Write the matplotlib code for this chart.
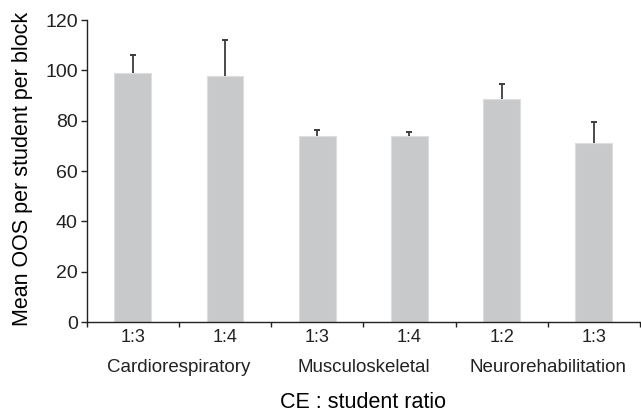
import numpy as np
import matplotlib
matplotlib.use('Agg')
import matplotlib.pyplot as plt

plt.rcParams['font.family'] = ['Liberation Sans', 'DejaVu Sans']
plt.rcParams['text.color'] = '#222222'
plt.rcParams['xtick.color'] = '#222222'
plt.rcParams['ytick.color'] = '#222222'

# ── Data ──────────────────────────────────────────────────────────────────────
ratios     = ['1:3', '1:4', '1:3', '1:4', '1:2', '1:3']
areas      = ['Cardiorespiratory', 'Musculoskeletal', 'Neurorehabilitation']
mean_oos   = [98.9, 97.7, 73.9, 73.9, 88.5, 71.0]
sd_oos     = [7.3, 14.3, 2.6, 1.6, 6.2, 8.6]

# ── Plot ──────────────────────────────────────────────────────────────────────
fig = plt.figure(figsize=(6.41, 4.13), dpi=100)
ax = fig.add_axes([0.1353, 0.2203, 0.8632, 0.7312])

x = np.arange(len(ratios))
bars = ax.bar(x, mean_oos, width=0.4, color='#c8c9cb', edgecolor='#dedede', linewidth=0.8,
              yerr=[np.zeros(len(sd_oos)), sd_oos],
              error_kw=dict(ecolor='#3c3c3c', elinewidth=1.3, capsize=2.5, capthick=1.4))
# upper whisker only: hide the caps sitting on top of the bars
bars.errorbar.lines[1][0].set_visible(False)

ax.set_xlim(-0.5, len(ratios) - 0.5)
ax.set_ylim(0, 120)
ax.set_yticks(range(0, 121, 20))

ax.spines['top'].set_visible(False)
ax.spines['right'].set_visible(False)
for s in ('left', 'bottom'):
    ax.spines[s].set_color('#222222')
    ax.spines[s].set_linewidth(1.0)

# ratio labels under each bar, ticks on the category boundaries
ax.set_xticks(x)
ax.set_xticklabels(ratios, fontsize=13)
ax.tick_params(axis='x', which='major', length=0, pad=5)
ax.set_xticks(np.arange(-0.5, len(ratios)), minor=True)
ax.tick_params(axis='x', which='minor', length=3.5, width=1.0)
ax.tick_params(axis='y', labelsize=14, length=4.5, width=1.0, pad=2)

for i, name in enumerate(areas):
    ax.text(2 * i + 0.5, -0.149, name, transform=ax.get_xaxis_transform(),
            ha='center', va='center', fontsize=13.5)

ax.set_xlabel('CE : student ratio', fontsize=15.5)
ax.xaxis.set_label_coords(0.5, -0.232)
ax.set_ylabel('Mean OOS per student per block', fontsize=15.5)
ax.yaxis.set_label_coords(-0.097, 0.507)

fig.savefig('out.png', dpi=100)
